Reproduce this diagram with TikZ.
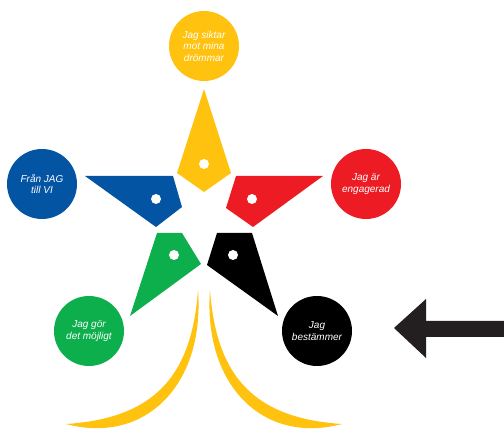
\documentclass[tikz,border=0pt]{standalone}
\usepackage{fontspec}
\setmainfont{Liberation Sans}
\begin{document}
\begin{tikzpicture}[x=1pt,y=-1pt,
  badge/.style={circle, minimum size=70pt, inner sep=0pt, align=center,
    text=white, font=\itshape\fontsize{10}{11.5}\selectfont},
  hole/.style={fill=white}]
\definecolor{sunY}{HTML}{FFC20E}
\definecolor{deepB}{HTML}{0454A4}
\definecolor{hotR}{HTML}{ED1C24}
\definecolor{leafG}{HTML}{0DAF4C}
\definecolor{inkK}{HTML}{231F20}
\useasboundingbox (0,0) rectangle (504,430);

% the five round badges
\node[badge, fill=sunY]  (dream)  at (204,46)  {Jag siktar\\mot mina\\drömmar};
\node[badge, fill=deepB] (we)     at (42,184)  {Från JAG\\till VI};
\node[badge, fill=hotR]  (engage) at (366,184) {Jag är\\engagerad};
\node[badge, fill=leafG] (enable) at (89,331)  {Jag gör\\det möjligt};
\node[badge, fill=black] (decide) at (317,331) {Jag\\bestämmer};

% the five star points, each with a small hole
\fill[sunY]  (204,89) -- (231,173) -- (204,192) -- (177,173) -- cycle;
\fill[hole]  (204,164) circle (5pt);
\fill[deepB] (85,176) -- (173,176) -- (182,207) -- (156,227) -- cycle;
\fill[hole]  (156,199) circle (5pt);
\fill[hotR]  (323,176) -- (236,176) -- (226,208) -- (253,227) -- cycle;
\fill[hole]  (252,199) circle (5pt);
\fill[leafG] (157,233) -- (182,233) -- (201,264) -- (130,316) -- cycle;
\fill[hole]  (174,255) circle (5pt);
\fill[black] (217,233) -- (252,233) -- (278,316) -- (207,265) -- cycle;
\fill[hole]  (233,255) circle (5pt);

% two crescent swooshes below the star
\fill[sunY] (198,290) .. controls (205,385) and (145,445) .. (66,424)
  .. controls (160,418) and (192,370) .. (198,290) -- cycle;
\fill[sunY] (210,290) .. controls (203,385) and (263,445) .. (342,424)
  .. controls (248,418) and (216,370) .. (210,290) -- cycle;

% block arrow pointing at the black badge
\fill[inkK] (394,328) -- (426,299) -- (426,321) -- (504,321) -- (504,337)
  -- (426,337) -- (426,358) -- cycle;
\end{tikzpicture}
\end{document}
